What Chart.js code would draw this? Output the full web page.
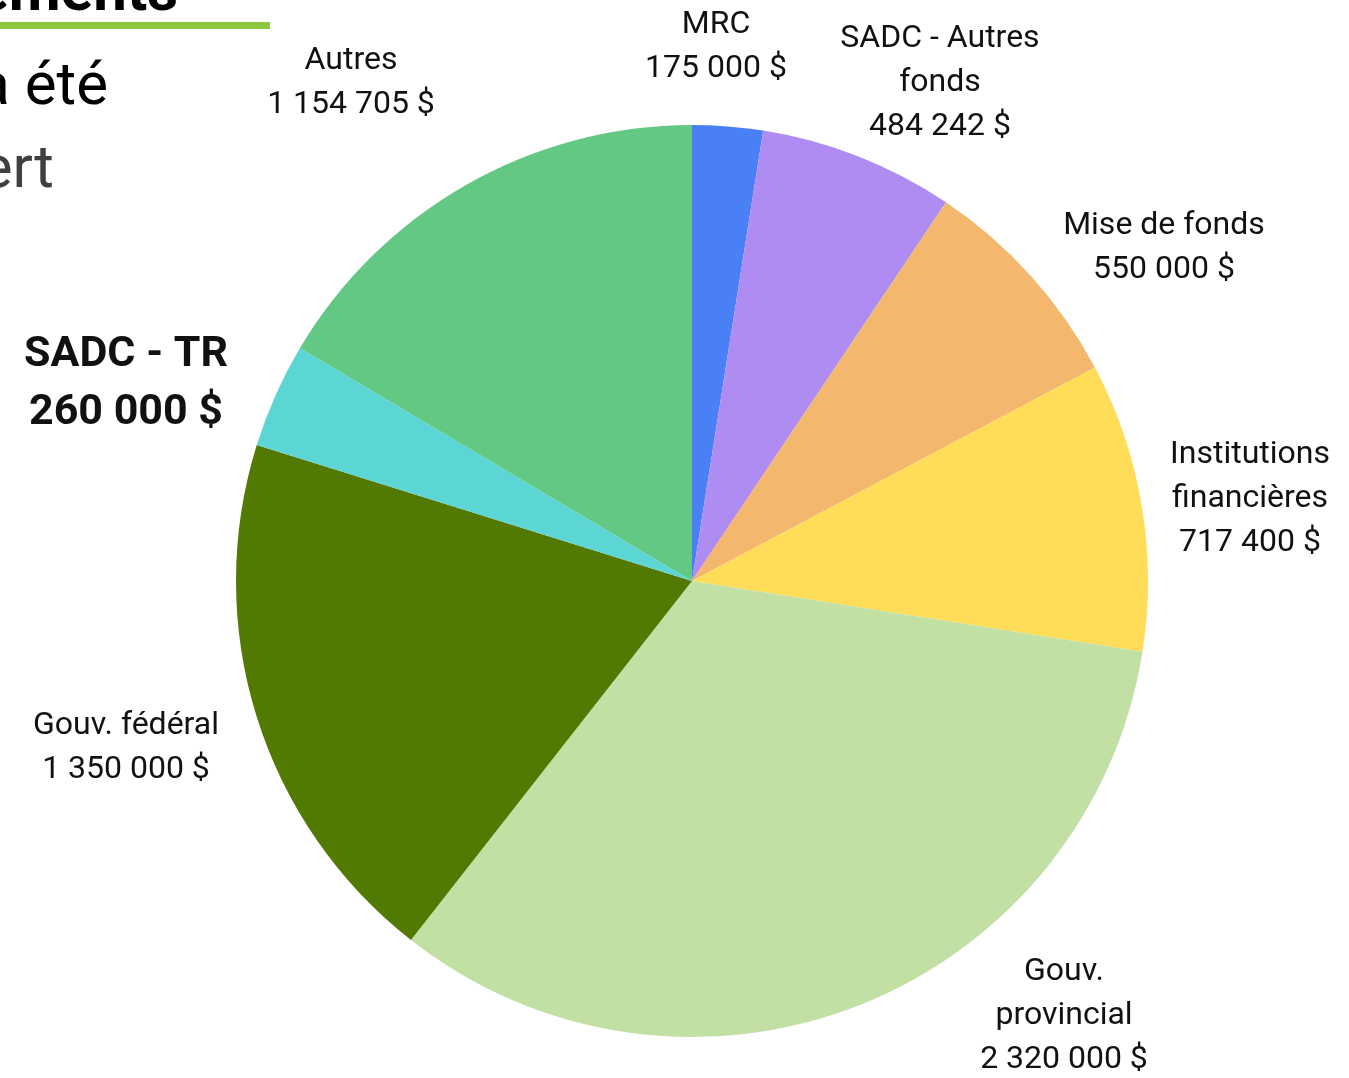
<!DOCTYPE html>
<html>
<head>
<meta charset="utf-8">
<script src="https://cdn.jsdelivr.net/npm/chart.js@4/dist/chart.umd.min.js"></script>
<style>
html,body{margin:0;padding:0;background:#fff;overflow:hidden;}
#wrap{position:relative;width:1349px;height:1078px;}
canvas{display:block;}
</style>
</head>
<body>
<div id="wrap"><canvas id="c" width="1349" height="1078"></canvas></div>
<script>
// ---- data ----
const categories = ["MRC", "SADC - Autres fonds", "Mise de fonds", "Institutions financières", "Gouv. provincial", "Gouv. fédéral", "SADC - TR", "Autres"];
const amounts = [175000, 484242, 550000, 717400, 2320000, 1350000, 260000, 1154705];
const amountLabels = ["175 000 $", "484 242 $", "550 000 $", "717 400 $", "2 320 000 $", "1 350 000 $", "260 000 $", "1 154 705 $"];
const colors = ["#4a80f6", "#ae8cf2", "#f3b86d", "#ffdd59", "#c2dfa4", "#527a02", "#5cd5d5", "#63c883"];

// label text lines (wrapped as in the reference)
const labelLines = [
  ["MRC"],
  ["SADC - Autres", "fonds"],
  ["Mise de fonds"],
  ["Institutions", "financières"],
  ["Gouv.", "provincial"],
  ["Gouv. fédéral"],
  ["SADC - TR"],
  ["Autres"]
];
// label anchors (center x, first-line middle y) and styling
const labelAnchor = [
  [716, 25], [940, 39], [1164, 226], [1250, 455],
  [1064, 972], [126, 726], [126, 355], [351, 61]
];
const labelBold = [false, false, false, false, false, false, true, false];

const labelPlugin = {
  id: 'labels',
  afterDraw(chart) {
    const ctx = chart.ctx;
    ctx.save();
    ctx.textAlign = 'center';
    ctx.textBaseline = 'middle';
    ctx.fillStyle = '#111';
    categories.forEach((cat, i) => {
      const lines = labelLines[i].concat([amountLabels[i]]);
      const bold = labelBold[i];
      const size = bold ? 43 : 32;
      const lh = bold ? 58 : 44;
      ctx.font = (bold ? 'bold ' : '') + size + 'px Roboto';
      const [x, y] = labelAnchor[i];
      lines.forEach((t, k) => ctx.fillText(t, x, y + k * lh));
    });
    // page fragments visible at top-left
    ctx.textAlign = 'right';
    ctx.textBaseline = 'alphabetic';
    ctx.fillStyle = '#000';
    ctx.font = 'bold 60px Roboto';
    ctx.fillText('Financements', 178, 10);
    ctx.fillStyle = '#8dc63f';
    ctx.fillRect(0, 22, 270, 7);
    ctx.fillStyle = '#000';
    ctx.font = '60px Roboto';
    ctx.fillText('Le projet a été', 108, 104);
    ctx.fillStyle = '#404040';
    ctx.fillText('ouvert', 54, 187);
    ctx.restore();
  }
};

new Chart(document.getElementById('c'), {
  type: 'pie',
  data: {
    labels: categories,
    datasets: [{
      data: amounts,
      backgroundColor: colors,
      borderWidth: 0,
      hoverOffset: 0
    }]
  },
  options: {
    responsive: false,
    animation: false,
    layout: { padding: { left: 236, right: 201, top: 125, bottom: 41 } },
    plugins: {
      legend: { display: false },
      tooltip: { enabled: false }
    }
  },
  plugins: [labelPlugin]
});
</script>
</body>
</html>
